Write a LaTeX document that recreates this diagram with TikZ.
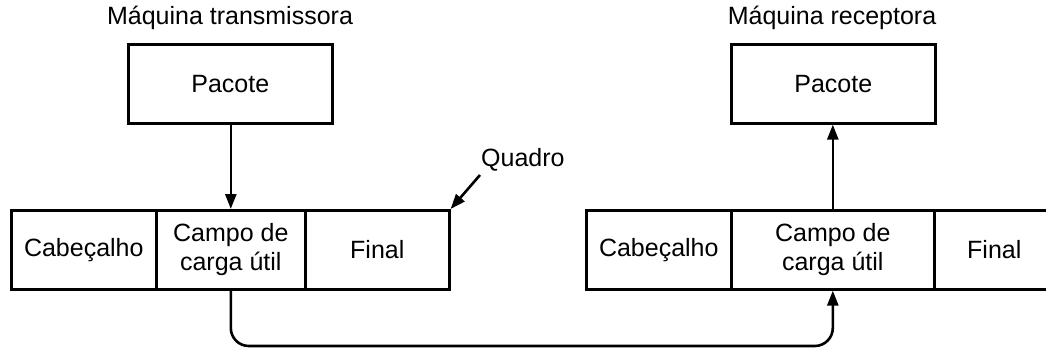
\documentclass[tikz,border=0pt]{standalone}
\usepackage{fontspec}
\setmainfont{Liberation Sans}
\usetikzlibrary{arrows.meta}
\begin{document}
\begin{tikzpicture}[x=1pt,y=-1pt,
  every node/.style={font=\fontsize{25}{29}\selectfont},
  cell/.style={draw,line width=2.6pt,inner sep=0pt,anchor=north west,minimum height=79pt,align=center},
  pkt/.style={draw,line width=2.6pt,inner sep=0pt,anchor=north west,minimum height=79pt,minimum width=204pt},
  conn/.style={line width=2.6pt,-{Triangle[length=15pt,width=11pt]}},
  lbl/.style={inner sep=0pt}]
\useasboundingbox (0,0) rectangle (1046,349);
% titles
\node[lbl] (t1) at (230,18) {Máquina transmissora};
\node[lbl] (t2) at (832,18) {Máquina receptora};
% packets
\node[pkt] (p1) at (127,43) {Pacote};
\node[pkt] (p2) at (730,43) {Pacote};
% left frame
\node[cell,minimum width=145pt] (h1) at (10,209) {Cabeçalho};
\node[cell,minimum width=149pt] (c1) at (155,209) {Campo de\\carga útil};
\node[cell,minimum width=144pt] (f1) at (304,209) {Final};
% right frame
\node[cell,minimum width=145pt] (h2) at (585,209) {Cabeçalho};
\node[cell,minimum width=203pt] (c2) at (730,209) {Campo de\\carga útil};
\node[cell,minimum width=120pt,text width=112pt] (f2) at (933,209) {Final};
% Quadro label
\node[lbl,anchor=west] (q) at (481,160) {Quadro};
\coordinate (qs) at (480,175);
% connectors
\draw[conn] (p1.south -| c1.north) -- (c1.north);
\draw[conn] (c2.north) -- (c2.north |- p2.south);
\draw[conn,rounded corners=18pt] (c1.south) -- (c1.south |- 0,346) -- (c2.south |- 0,346) -- (c2.south);
\draw[conn] (qs) -- (f1.north east);
\end{tikzpicture}
\end{document}
